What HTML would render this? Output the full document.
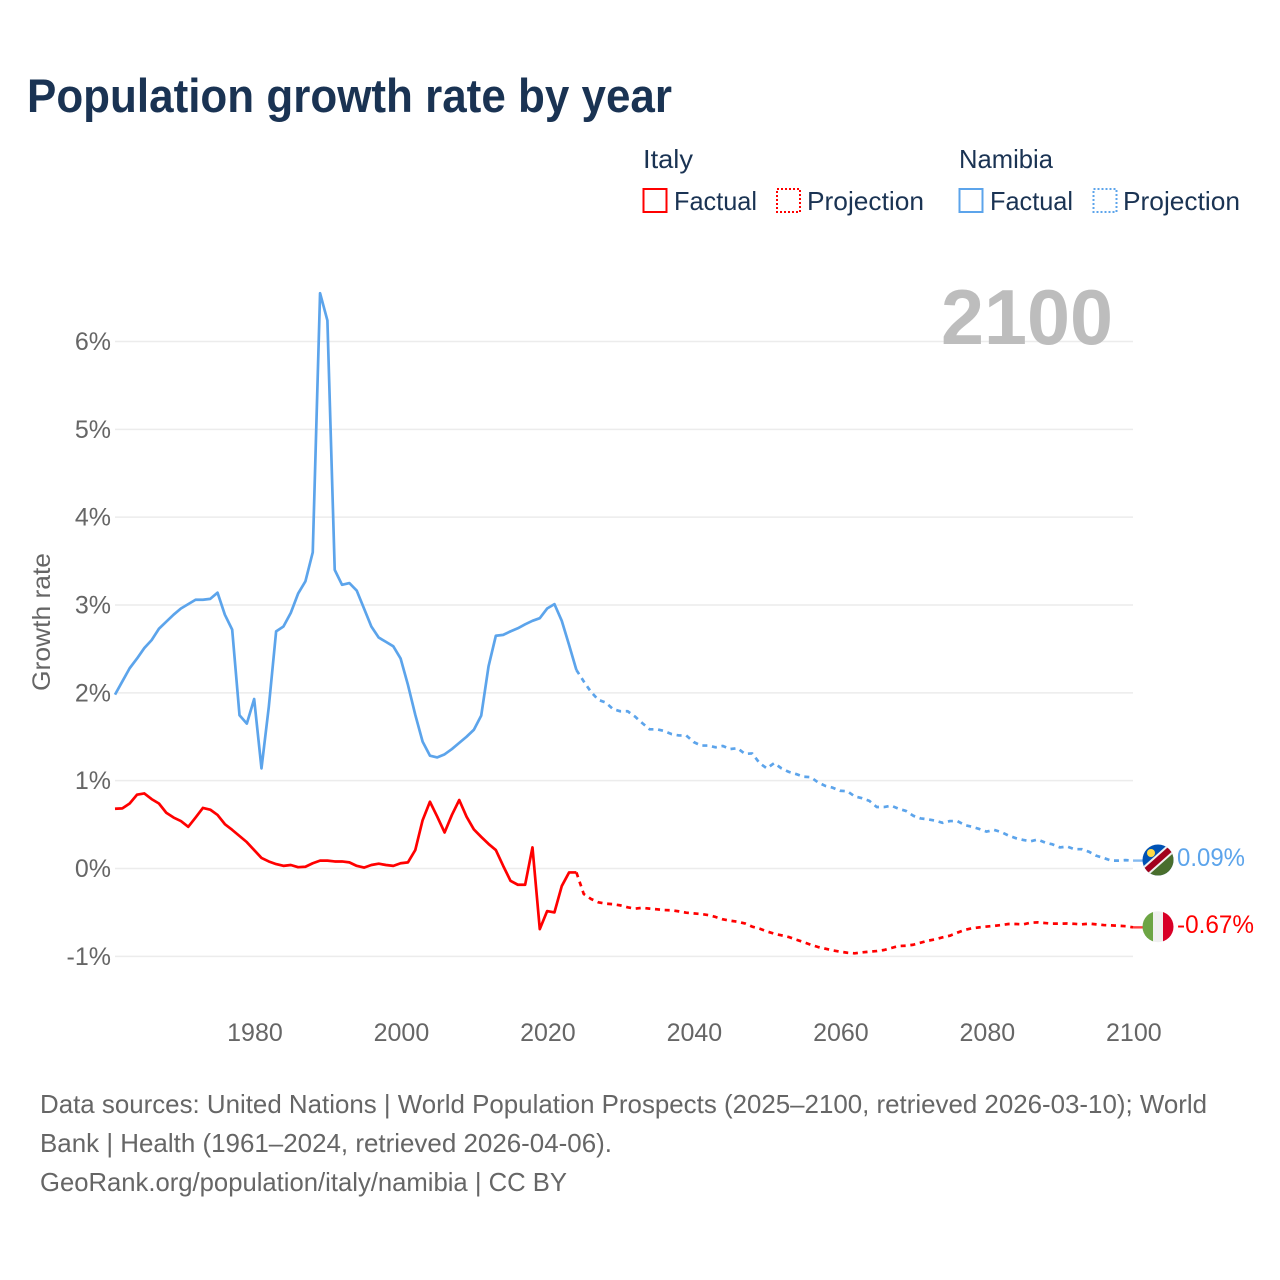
<!DOCTYPE html>
<html lang="en">
<head>
<meta charset="utf-8">
<title>Population growth rate by year</title>
<style>
html,body{margin:0;padding:0;background:#fff;}
svg{display:block;font-family:"Liberation Sans",sans-serif;}
</style>
</head>
<body>
<svg id="chart" xmlns="http://www.w3.org/2000/svg" width="1280" height="1280" viewBox="0 0 1280 1280">
  <defs>
    <clipPath id="clip-nam"><circle cx="1158" cy="860" r="15.5"/></clipPath>
    <clipPath id="clip-ita"><circle cx="1158" cy="926.7" r="15.5"/></clipPath>
  </defs>
  <rect width="1280" height="1280" fill="#fff"/>
  <text x="27" y="112" font-size="47" font-weight="700" fill="#1a3353" textLength="645" lengthAdjust="spacingAndGlyphs">Population growth rate by year</text>

  <g font-size="26" fill="#1a3353">
    <text x="643" y="168" textLength="50" lengthAdjust="spacingAndGlyphs">Italy</text>
    <text x="959" y="168" textLength="94" lengthAdjust="spacingAndGlyphs">Namibia</text>
    <rect x="643.5" y="189" width="23" height="23" fill="none" stroke="#ff0000" stroke-width="2"/>
    <text x="674" y="210" textLength="83" lengthAdjust="spacingAndGlyphs">Factual</text>
    <rect x="777" y="189" width="23" height="23" fill="none" stroke="#ff0000" stroke-width="2" stroke-dasharray="2 2"/>
    <text x="807" y="210" textLength="117" lengthAdjust="spacingAndGlyphs">Projection</text>
    <rect x="959.5" y="189" width="23" height="23" fill="none" stroke="#5ca4eb" stroke-width="2"/>
    <text x="990" y="210" textLength="83" lengthAdjust="spacingAndGlyphs">Factual</text>
    <rect x="1093.5" y="189" width="23" height="23" fill="none" stroke="#5ca4eb" stroke-width="2" stroke-dasharray="2 2"/>
    <text x="1123" y="210" textLength="117" lengthAdjust="spacingAndGlyphs">Projection</text>
  </g>

  <g id="grid"></g>
  <g id="yticks" font-size="25" fill="#666666" text-anchor="end"></g>
  <g id="xticks" font-size="25" fill="#666666" text-anchor="middle"></g>

  <text transform="translate(50,622) rotate(-90)" text-anchor="middle" font-size="25" fill="#666666" textLength="138" lengthAdjust="spacingAndGlyphs">Growth rate</text>
  <text x="941" y="344" font-size="78" font-weight="700" fill="#bdbdbd" textLength="172" lengthAdjust="spacingAndGlyphs">2100</text>

  <g id="series"></g>

  <g clip-path="url(#clip-nam)">
    <rect x="1142" y="844" width="32" height="32" fill="#0052b4"/>
    <polygon points="1176,842 1176,878 1140,878" fill="#496e2d"/>
    <line x1="1140" y1="876" x2="1176" y2="844" stroke="#f0f0f0" stroke-width="10"/>
    <line x1="1140" y1="876" x2="1176" y2="844" stroke="#a2001d" stroke-width="6"/>
    <circle cx="1151" cy="853" r="4" fill="#ffda44"/>
  </g>
  <g clip-path="url(#clip-ita)">
    <rect x="1142" y="911" width="11.5" height="32" fill="#6da544"/>
    <rect x="1153" y="911" width="10.5" height="32" fill="#f0f0f0"/>
    <rect x="1163" y="911" width="11" height="32" fill="#d80027"/>
  </g>
  <text x="1177" y="866" font-size="25" fill="#5ca4eb" textLength="68" lengthAdjust="spacingAndGlyphs">0.09%</text>
  <text x="1177" y="933" font-size="25" fill="#ff0000" textLength="77" lengthAdjust="spacingAndGlyphs">-0.67%</text>

  <g font-size="26" fill="#666666">
    <text x="40" y="1113" textLength="1167" lengthAdjust="spacingAndGlyphs">Data sources: United Nations | World Population Prospects (2025–2100, retrieved 2026-03-10); World</text>
    <text x="40" y="1152" textLength="572" lengthAdjust="spacingAndGlyphs">Bank | Health (1961–2024, retrieved 2026-04-06).</text>
    <text x="40" y="1191" textLength="527" lengthAdjust="spacingAndGlyphs">GeoRank.org/population/italy/namibia | CC BY</text>
  </g>
</svg>
<script>
const yTickValues = [-1, 0, 1, 2, 3, 4, 5, 6];
const yTickLabels = ['-1%', '0%', '1%', '2%', '3%', '4%', '5%', '6%'];
const xTickYears = [1980, 2000, 2020, 2040, 2060, 2080, 2100];
const factualStartYear = 1961;
const projectionStartYear = 2024;
const namibiaFactual = [1.98,2.13,2.28,2.39,2.51,2.60,2.73,2.81,2.89,2.96,3.01,3.06,3.06,3.07,3.14,2.89,2.72,1.745,1.65,1.93,1.14,1.84,2.70,2.755,2.91,3.13,3.27,3.60,6.55,6.24,3.40,3.23,3.25,3.165,2.96,2.755,2.63,2.58,2.53,2.39,2.09,1.75,1.445,1.285,1.265,1.30,1.36,1.43,1.50,1.58,1.74,2.30,2.65,2.66,2.70,2.735,2.78,2.82,2.85,2.96,3.01,2.82,2.545,2.26];
const namibiaProjection = [2.26,2.13,2.01,1.92,1.89,1.815,1.79,1.79,1.73,1.655,1.585,1.585,1.565,1.53,1.515,1.515,1.44,1.40,1.40,1.38,1.395,1.36,1.37,1.305,1.31,1.20,1.14,1.20,1.14,1.10,1.075,1.045,1.04,0.98,0.94,0.92,0.885,0.88,0.82,0.80,0.77,0.70,0.70,0.715,0.68,0.655,0.60,0.57,0.56,0.545,0.52,0.54,0.54,0.495,0.475,0.45,0.42,0.44,0.415,0.375,0.345,0.325,0.31,0.33,0.295,0.275,0.24,0.25,0.22,0.22,0.19,0.145,0.12,0.09,0.09,0.095,0.09];
const italyFactual = [0.68,0.685,0.74,0.84,0.855,0.79,0.74,0.635,0.58,0.54,0.475,0.58,0.69,0.67,0.61,0.505,0.44,0.37,0.30,0.21,0.12,0.08,0.05,0.03,0.04,0.015,0.02,0.06,0.09,0.09,0.08,0.08,0.07,0.03,0.01,0.04,0.055,0.04,0.03,0.06,0.07,0.21,0.55,0.76,0.59,0.41,0.61,0.78,0.59,0.445,0.36,0.28,0.21,0.03,-0.14,-0.185,-0.185,0.24,-0.69,-0.485,-0.50,-0.20,-0.045,-0.045];
const italyProjection = [-0.045,-0.29,-0.347,-0.385,-0.40,-0.406,-0.42,-0.442,-0.457,-0.448,-0.457,-0.465,-0.473,-0.476,-0.488,-0.503,-0.511,-0.518,-0.53,-0.552,-0.579,-0.594,-0.606,-0.625,-0.662,-0.685,-0.716,-0.742,-0.761,-0.78,-0.81,-0.837,-0.868,-0.894,-0.913,-0.932,-0.947,-0.959,-0.966,-0.955,-0.947,-0.94,-0.928,-0.905,-0.883,-0.879,-0.868,-0.845,-0.822,-0.807,-0.784,-0.765,-0.731,-0.70,-0.681,-0.67,-0.661,-0.653,-0.644,-0.632,-0.632,-0.636,-0.617,-0.613,-0.621,-0.628,-0.628,-0.626,-0.63,-0.636,-0.628,-0.636,-0.644,-0.648,-0.652,-0.657,-0.67];

const svgNS = 'http://www.w3.org/2000/svg';
function xScale(year) { return 115 + (year - 1961) * 7.324; }
function yScale(value) { return 868.5 - value * 87.83; }
function toPoints(values, startYear) {
  return values.map(function (v, i) {
    return xScale(startYear + i).toFixed(2) + ',' + yScale(v).toFixed(2);
  }).join(' ');
}
const gridLayer = document.getElementById('grid');
const yTickLayer = document.getElementById('yticks');
const xTickLayer = document.getElementById('xticks');
const seriesLayer = document.getElementById('series');

yTickValues.forEach(function (v, i) {
  const line = document.createElementNS(svgNS, 'line');
  
  
  line.setAttribute('x1', 115);
  line.setAttribute('x2', 1133);
  line.setAttribute('y1', yScale(v));
  line.setAttribute('y2', yScale(v));
  line.setAttribute('stroke', '#ececec');
  line.setAttribute('stroke-width', 1.5);
  gridLayer.appendChild(line);
  const label = document.createElementNS(svgNS, 'text');
  
  
  label.setAttribute('x', 111);
  label.setAttribute('y', yScale(v) + 8.5);
  label.textContent = yTickLabels[i];
  yTickLayer.appendChild(label);
});

xTickYears.forEach(function (year) {
  const label = document.createElementNS(svgNS, 'text');
  
  
  label.setAttribute('x', xScale(year) + 0.8);
  label.setAttribute('y', 1041);
  label.textContent = String(year);
  xTickLayer.appendChild(label);
});

function addLine(name, values, startYear, color, dashed) {
  const line = document.createElementNS(svgNS, 'polyline');
  
  
  line.setAttribute('points', toPoints(values, startYear));
  line.setAttribute('fill', 'none');
  line.setAttribute('stroke', color);
  line.setAttribute('stroke-width', 2.7);
  line.setAttribute('stroke-linejoin', 'round');
  if (dashed) line.setAttribute('stroke-dasharray', '5 4.7');
  seriesLayer.appendChild(line);
}
function addConnector(name, values, color) {
  const last = values[values.length - 1];
  const link = document.createElementNS(svgNS, 'line');
  
  
  link.setAttribute('x1', xScale(2100));
  link.setAttribute('x2', 1143);
  link.setAttribute('y1', yScale(last));
  link.setAttribute('y2', yScale(last));
  link.setAttribute('stroke', color);
  link.setAttribute('stroke-width', 2.4);
  link.setAttribute('opacity', 0.75);
  seriesLayer.appendChild(link);
}
addLine('namibia-factual-line', namibiaFactual, factualStartYear, '#5ca4eb', false);
addLine('namibia-projection-line', namibiaProjection, projectionStartYear, '#5ca4eb', true);
addLine('italy-factual-line', italyFactual, factualStartYear, '#ff0000', false);
addLine('italy-projection-line', italyProjection, projectionStartYear, '#ff0000', true);
addConnector('namibia-end-connector', namibiaProjection, '#5ca4eb');
addConnector('italy-end-connector', italyProjection, '#ff0000');
</script>
</body>
</html>
